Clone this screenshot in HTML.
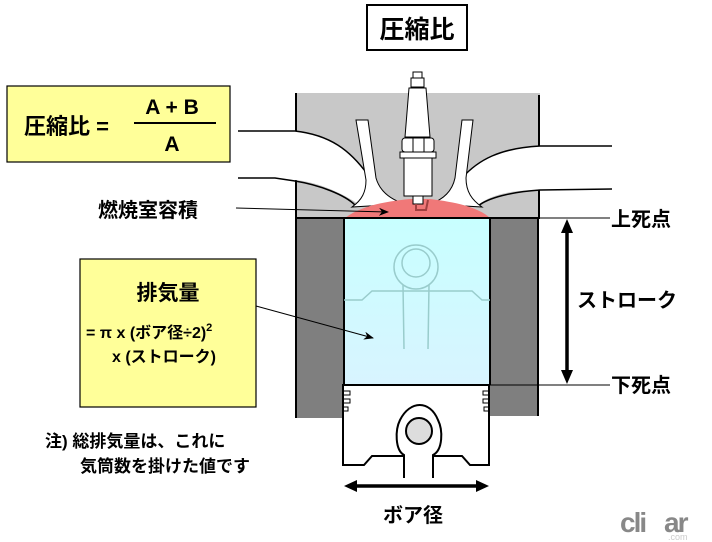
<!DOCTYPE html>
<html><head><meta charset="utf-8"><style>
body{margin:0;background:#fff;}
svg{display:block;font-family:"Liberation Sans","Noto Sans CJK JP",sans-serif;}
</style></head><body>
<svg width="712" height="542" viewBox="0 0 712 542" xmlns="http://www.w3.org/2000/svg">
<defs>
<linearGradient id="bl" x1="0" y1="0" x2="0" y2="1"><stop offset="0" stop-color="#c8ffff"/><stop offset="1" stop-color="#d8f4ff"/></linearGradient>
<marker id="ah" markerWidth="10" markerHeight="8" refX="9" refY="4" orient="auto" markerUnits="userSpaceOnUse"><path d="M0,0 L10,4 L0,8 L3,4z" fill="#000"/></marker>
</defs>
<rect x="367" y="5" width="100" height="45" fill="#fff" stroke="#000" stroke-width="2"/>
<text x="417" y="38" font-size="25" text-anchor="middle" font-weight="bold">圧縮比</text>
<rect x="7" y="86" width="223" height="76" fill="#ffff99" stroke="#000" stroke-width="1.2"/>
<text x="24" y="134" font-size="22" font-weight="bold">圧縮比 =</text>
<text x="172" y="114" font-size="21" text-anchor="middle" font-weight="bold">A + B</text>
<line x1="134" y1="123" x2="216" y2="123" stroke="#000" stroke-width="2"/>
<text x="172" y="151" font-size="21" text-anchor="middle" font-weight="bold">A</text>
<rect x="295" y="93" width="245" height="125" fill="#c8c8c8"/>
<line x1="296" y1="93" x2="296" y2="218" stroke="#000" stroke-width="2"/>
<line x1="539" y1="95" x2="539" y2="218" stroke="#000" stroke-width="2"/>
<path d="M238,131 L295,131 C330,135 350,150 368,175 L380,205 L360,205 C345,195 320,182 295,180 L238,178 Z" fill="#fff"/>
<path d="M238,131 L295,131 C330,135 350,150 368,175" fill="none" stroke="#000" stroke-width="1.5"/>
<path d="M238,178 L275,178 L295,181 C320,185 345,195 355,205" fill="none" stroke="#000" stroke-width="1.5"/>
<path d="M612,146 L540,146 C500,148 478,160 462,178 L455,205 L478,205 C490,195 510,190 540,190 L612,189 Z" fill="#fff"/>
<path d="M612,146 L540,146 C500,148 478,160 462,178" fill="none" stroke="#000" stroke-width="1.5"/>
<path d="M612,189 L540,190 C510,192 488,198 478,206" fill="none" stroke="#000" stroke-width="1.5"/>
<rect x="297" y="205" width="48" height="13" fill="#c8c8c8"/>
<rect x="489" y="205" width="49" height="13" fill="#c8c8c8"/>
<path d="M356,120 L368,120 L376,178 C380,192 392,200 405,204 L352,207 C362,200 366,192 366,180 Z" fill="#fff" stroke="#000" stroke-width="1"/>
<path d="M462,120 L473,120 L466,178 C466,192 472,200 482,207 L430,204 C442,200 452,192 455,178 Z" fill="#fff" stroke="#000" stroke-width="1"/>
<path d="M345,218 C360,207 380,202 410,199 L430,199 C455,202 478,207 490,218 Z" fill="#f07878"/>
<rect x="413" y="72" width="9" height="6" fill="#fff" stroke="#000"/>
<rect x="411" y="78" width="13" height="9" fill="#fff" stroke="#000"/>
<path d="M409,88 L426,88 L430,137 L405,137 Z" fill="#fff" stroke="#000"/>
<rect x="402" y="138" width="32" height="14" rx="3" fill="#fff" stroke="#000"/>
<line x1="413" y1="138" x2="413" y2="152" stroke="#000"/><line x1="424" y1="138" x2="424" y2="152" stroke="#000"/>
<rect x="400" y="152" width="36" height="6" fill="#fff" stroke="#000"/>
<rect x="404" y="158" width="28" height="38" fill="#fff" stroke="#000"/>
<rect x="413" y="196" width="10" height="8" fill="#fff" stroke="#000"/>
<path d="M416,204 L416,210 L426,210 L428,200" fill="none" stroke="#a04040" stroke-width="2"/>
<rect x="296" y="218" width="48" height="200" fill="#7f7f7f"/>
<rect x="490" y="218" width="48" height="198" fill="#7f7f7f"/>
<line x1="296" y1="218" x2="296" y2="418" stroke="#000" stroke-width="2"/>
<line x1="538" y1="218" x2="538" y2="416" stroke="#000" stroke-width="2"/>
<rect x="344" y="218" width="146" height="167" fill="url(#bl)"/>
<line x1="344" y1="218" x2="344" y2="385" stroke="#000" stroke-width="2"/>
<line x1="490" y1="218" x2="490" y2="385" stroke="#000" stroke-width="2"/>
<line x1="295" y1="218" x2="540" y2="218" stroke="#000" stroke-width="2"/>
<g fill="none" stroke="#9cc" stroke-width="1.5">
<circle cx="416" cy="267" r="22"/><circle cx="416" cy="263" r="14"/>
<path d="M344,300 L362,300 L372,291 L472,291 L482,300 L490,300"/>
<path d="M403,285 L404,349 M429,285 L428,349"/>
</g>
<path d="M343,385 L489,385 L489,465 L470,465 L462,456 L372,456 L364,465 L343,465 Z" fill="#fff" stroke="#000" stroke-width="2"/>
<g fill="none" stroke="#000" stroke-width="1">
<rect x="343" y="391" width="7" height="4"/><rect x="343" y="399" width="7" height="4"/><rect x="343" y="407" width="5" height="4"/>
<rect x="483" y="391" width="6" height="4"/><rect x="483" y="399" width="6" height="4"/><rect x="484" y="407" width="5" height="4"/>
</g>
<path d="M404,478 L404,455 C395,450 395,430 400,420 C410,400 430,400 438,420 C443,430 443,450 433,455 L433,478" fill="#fff" stroke="#000" stroke-width="2"/>
<circle cx="419" cy="431" r="13" fill="#ddd" stroke="#000" stroke-width="2"/>
<line x1="352" y1="486" x2="481" y2="486" stroke="#000" stroke-width="3.5"/>
<path d="M344,486 L357,480 L357,492 Z M489,486 L476,480 L476,492 Z" fill="#000"/>
<text x="413" y="522" font-size="20" text-anchor="middle" font-weight="bold">ボア径</text>
<line x1="490" y1="218" x2="610" y2="218" stroke="#000" stroke-width="1"/>
<line x1="490" y1="385" x2="610" y2="385" stroke="#000" stroke-width="1"/>
<line x1="567" y1="230" x2="567" y2="373" stroke="#000" stroke-width="3.5"/>
<path d="M567,219 L561,233 L573,233 Z M567,384 L561,370 L573,370 Z" fill="#000"/>
<text x="611" y="226" font-size="20" font-weight="bold">上死点</text>
<text x="577" y="307" font-size="20" font-weight="bold">ストローク</text>
<text x="611" y="392" font-size="20" font-weight="bold">下死点</text>
<text x="98" y="217" font-size="20" font-weight="bold">燃焼室容積</text>
<line x1="236" y1="208" x2="388" y2="212" stroke="#000" stroke-width="1" marker-end="url(#ah)"/>
<rect x="80" y="259" width="176" height="148" fill="#ffff99" stroke="#000" stroke-width="1.2"/>
<text x="168" y="300" font-size="21" text-anchor="middle" font-weight="bold">排気量</text>
<text x="86" y="338" font-size="16" font-weight="bold">= π x (ボア径÷2)<tspan font-size="11" dy="-7">2</tspan></text>
<text x="112" y="362" font-size="16" font-weight="bold">x (ストローク)</text>
<line x1="256" y1="306" x2="373" y2="338" stroke="#000" stroke-width="1" marker-end="url(#ah)"/>
<text x="45" y="447" font-size="17" font-weight="bold">注) 総排気量は、これに</text>
<text x="80" y="472" font-size="17" font-weight="bold">気筒数を掛けた値です</text>
<text x="620" y="532" font-size="28" font-weight="bold" fill="#888" letter-spacing="-2">cli</text>
<text x="664" y="532" font-size="28" font-weight="bold" fill="#888" letter-spacing="-2">ar</text>
<text x="668" y="540" font-size="9" fill="#ccc">.com</text>
</svg>
</body></html>
